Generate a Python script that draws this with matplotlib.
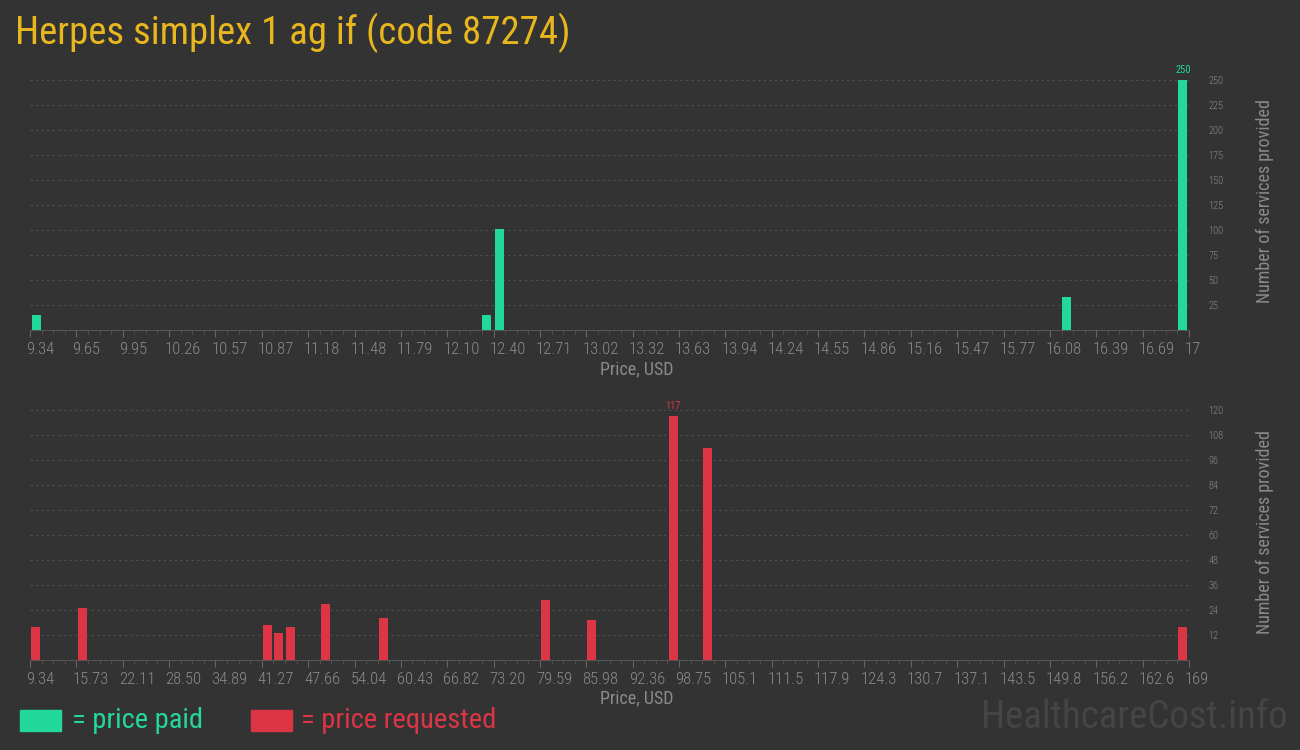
import matplotlib
matplotlib.use('Agg')
import matplotlib.pyplot as plt
import matplotlib.transforms as mtransforms
from matplotlib import font_manager
from matplotlib.ticker import AutoMinorLocator
import numpy as np

# 数据
paid_price = [9.35, 12.33, 12.41, 16.16, 16.93]
paid_count = [15, 15, 101, 33, 250]
paid_ticks = ['9.34', '9.65', '9.95', '10.26', '10.57', '10.87', '11.18', '11.48', '11.79',
              '12.10', '12.40', '12.71', '13.02', '13.32', '13.63', '13.94', '14.24', '14.55',
              '14.86', '15.16', '15.47', '15.77', '16.08', '16.39', '16.69', '17']
paid_yticks = [25, 50, 75, 100, 125, 150, 175, 200, 225, 250]

req_price = [9.5, 15.9, 41.4, 43.0, 44.6, 49.4, 57.4, 79.7, 86.1, 97.3, 102.1, 167.5]
req_count = [16, 25, 17, 13, 16, 27, 20, 29, 19, 117, 102, 16]
req_ticks = ['9.34', '15.73', '22.11', '28.50', '34.89', '41.27', '47.66', '54.04', '60.43',
             '66.82', '73.20', '79.59', '85.98', '92.36', '98.75', '105.1', '111.5', '117.9',
             '124.3', '130.7', '137.1', '143.5', '149.8', '156.2', '162.6', '169']
req_yticks = [12, 24, 36, 48, 60, 72, 84, 96, 108, 120]

BG = '#333333'
GREEN = '#22d99b'
RED = '#dc3545'
GREY = '#8a8a8a'

names = {f.name for f in font_manager.fontManager.ttflist}
def pick(*cands):
    for c in cands:
        if c in names:
            return c
    return 'DejaVu Sans'

main_font = pick('Roboto Condensed', 'Liberation Sans Narrow', 'Roboto')
tick_font = pick('Roboto Condensed', 'Liberation Sans Narrow', 'DejaVu Sans')
narrow = main_font != 'Roboto'

fig = plt.figure(figsize=(13, 7.5), dpi=100, facecolor=BG)


def draw(ax, prices, counts, color, xmin, xmax, labels, yticks, ymax, width):
    ax.set_facecolor(BG)
    ax.bar(prices, counts, width=width, align='edge', color=color, zorder=3)
    ax.set_xlim(xmin, xmax)
    ax.set_ylim(0, ymax)
    for s in ['top', 'right', 'left']:
        ax.spines[s].set_visible(False)
    ax.spines['bottom'].set_color('#555555')
    ax.set_xticks(np.linspace(xmin, xmax, len(labels)))
    ax.set_xticklabels(labels, fontfamily=tick_font, fontsize=12, color=GREY,
                       fontweight='light')
    ax.xaxis.set_minor_locator(AutoMinorLocator(4))
    ax.tick_params(axis='x', which='major', length=5, color='#666666', pad=4)
    ax.tick_params(axis='x', which='minor', length=3, color='#555555')
    off = mtransforms.ScaledTranslation(-4 / 100, 0, fig.dpi_scale_trans)
    for lab in ax.get_xticklabels():
        lab.set_horizontalalignment('left')
        lab.set_transform(lab.get_transform() + off)
    ax.yaxis.tick_right()
    ax.set_yticks(yticks)
    ax.set_yticklabels([str(v) for v in yticks], fontfamily=tick_font, fontsize=7.5,
                       color=GREY, fontweight='light')
    ax.tick_params(axis='y', length=0, pad=14)
    ax.grid(axis='y', color='#505050', linestyle=(0, (2, 3)), linewidth=0.8, zorder=0)
    # 最大值标签
    i = int(np.argmax(counts))
    ax.text(prices[i] + width / 2, counts[i] + ymax * 0.02, str(counts[i]), color=color,
            fontsize=7.5, fontfamily=tick_font, ha='center', va='bottom', clip_on=False)


ax1 = fig.add_axes([30 / 1300, 1 - 330 / 750, 1159 / 1300, 250 / 750])
draw(ax1, paid_price, paid_count, GREEN, 9.34, 17, paid_ticks, paid_yticks, 250, 0.06)

ax2 = fig.add_axes([30 / 1300, 1 - 660 / 750, 1159 / 1300, 250 / 750])
draw(ax2, req_price, req_count, RED, 9.34, 169, req_ticks, req_yticks, 120, 1.25)

fs = 1.0 if narrow else 0.85
fig.text(15 / 1300, 1 - 33 / 750, 'Herpes simplex 1 ag if (code 87274)', color='#e8b71e',
         fontsize=28 * fs, fontfamily=main_font, va='center', ha='left')

for yc in [369, 698]:
    fig.text(637 / 1300, 1 - yc / 750, 'Price, USD', color=GREY, fontsize=13,
             fontfamily=main_font, ha='center', va='center')
for yc in [201, 532]:
    fig.text(1265 / 1300, 1 - yc / 750, 'Number of services provided', color=GREY,
             fontsize=13, fontfamily=main_font, rotation=90, ha='center', va='center')

# 图例
fig.patches.append(plt.Rectangle((20 / 1300, 1 - 731 / 750), 41 / 1300, 21 / 750,
                                 transform=fig.transFigure, color=GREEN))
fig.text(72 / 1300, 1 - 720 / 750, '= price paid', color=GREEN, fontsize=20.5 * fs,
         fontfamily=main_font, va='center', ha='left')
fig.patches.append(plt.Rectangle((251 / 1300, 1 - 731 / 750), 41 / 1300, 21 / 750,
                                 transform=fig.transFigure, color=RED))
fig.text(301 / 1300, 1 - 720 / 750, '= price requested', color=RED, fontsize=20.5 * fs,
         fontfamily=main_font, va='center', ha='left')

fig.text(1288 / 1300, 1 - 718 / 750, 'HealthcareCost.info', color='#454545',
         fontsize=28 * fs, fontfamily=main_font, ha='right', va='center')

plt.savefig('out.png', facecolor=BG)
